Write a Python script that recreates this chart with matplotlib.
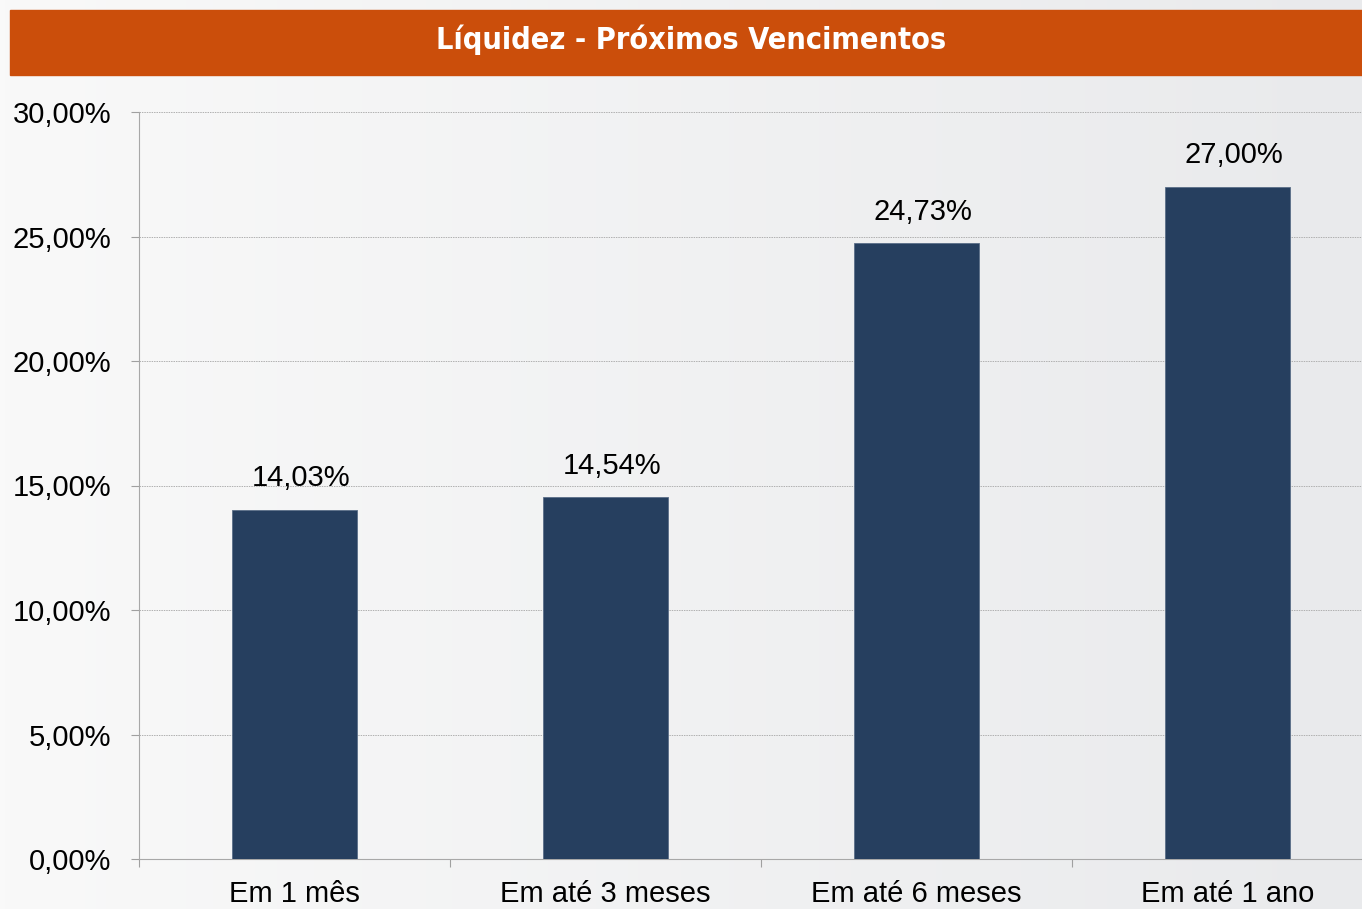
import numpy as np
import matplotlib.pyplot as plt
from matplotlib.ticker import FuncFormatter
from matplotlib.colors import LinearSegmentedColormap

categorias = ['Em 1 mês', 'Em até 3 meses', 'Em até 6 meses', 'Em até 1 ano']
valores = [14.03, 14.54, 24.73, 27.00]

titulo = 'Líquidez - Próximos Vencimentos'
cor_barra = '#263F5F'
cor_titulo = '#CB4E0B'

plt.rcParams['font.family'] = ['Liberation Sans', 'DejaVu Sans']

fig = plt.figure(figsize=(13.62, 9.09), dpi=100)

# fundo com leve gradiente
bg = fig.add_axes([0, 0, 1, 1], zorder=-10)
grad = np.linspace(0, 1, 256).reshape(1, -1)
cmap = LinearSegmentedColormap.from_list('bg', ['#F9F9F9', '#E9EAEC'])
bg.imshow(grad, aspect='auto', cmap=cmap, extent=[0, 1, 0, 1])
bg.set_axis_off()

# faixa do título
fig.patches.append(plt.Rectangle((10 / 1362, 1 - 75 / 909), 1, 65 / 909,
                                 transform=fig.transFigure, color=cor_titulo, zorder=0))
fig.text(691 / 1362, 1 - 40 / 909, titulo, ha='center', va='center', color='white',
         fontsize=22, fontweight='bold', fontstretch='condensed',
         family=['Liberation Sans Narrow', 'DejaVu Sans Condensed', 'DejaVu Sans'])

# eixo: x de 139 px, largura de 4 categorias de 311 px
ax = fig.add_axes([139 / 1362, 1 - 859 / 909, 4 * 311 / 1362, (859 - 112) / 909])
ax.set_facecolor('none')

x = np.arange(len(categorias))
ax.bar(x, valores, width=0.4, color=cor_barra, zorder=3,
       edgecolor='#5A6E88', linewidth=0.6)

for xi, v in zip(x, valores):
    ax.text(xi + 0.02, v + 0.7, f'{v:.2f}%'.replace('.', ','), ha='center', va='bottom',
            fontsize=21, color='black')

ax.set_xlim(-0.5, len(categorias) - 0.5)
ax.set_ylim(0, 30)
ax.set_yticks(np.arange(0, 31, 5))
ax.yaxis.set_major_formatter(FuncFormatter(lambda v, p: f'{v:.2f}%'.replace('.', ',')))
ax.tick_params(axis='y', labelsize=21, length=6, color='#A0A0A0', pad=14)

ax.set_xticks(np.arange(-0.5, len(categorias), 1))
ax.set_xticklabels([])
ax.tick_params(axis='x', which='major', length=6, color='#A0A0A0', direction='out')
ax.set_xticks(x, minor=True)
ax.set_xticklabels(categorias, minor=True)
ax.tick_params(axis='x', which='minor', length=0, labelsize=21, pad=15)

ax.grid(axis='y', color='#B0B0B0', linestyle=(0, (1.5, 1)), linewidth=0.7, zorder=0)
for s in ['top', 'right']:
    ax.spines[s].set_visible(False)
for s in ['left', 'bottom']:
    ax.spines[s].set_color('#A8A8A8')

fig.savefig('out.png', dpi=100)
